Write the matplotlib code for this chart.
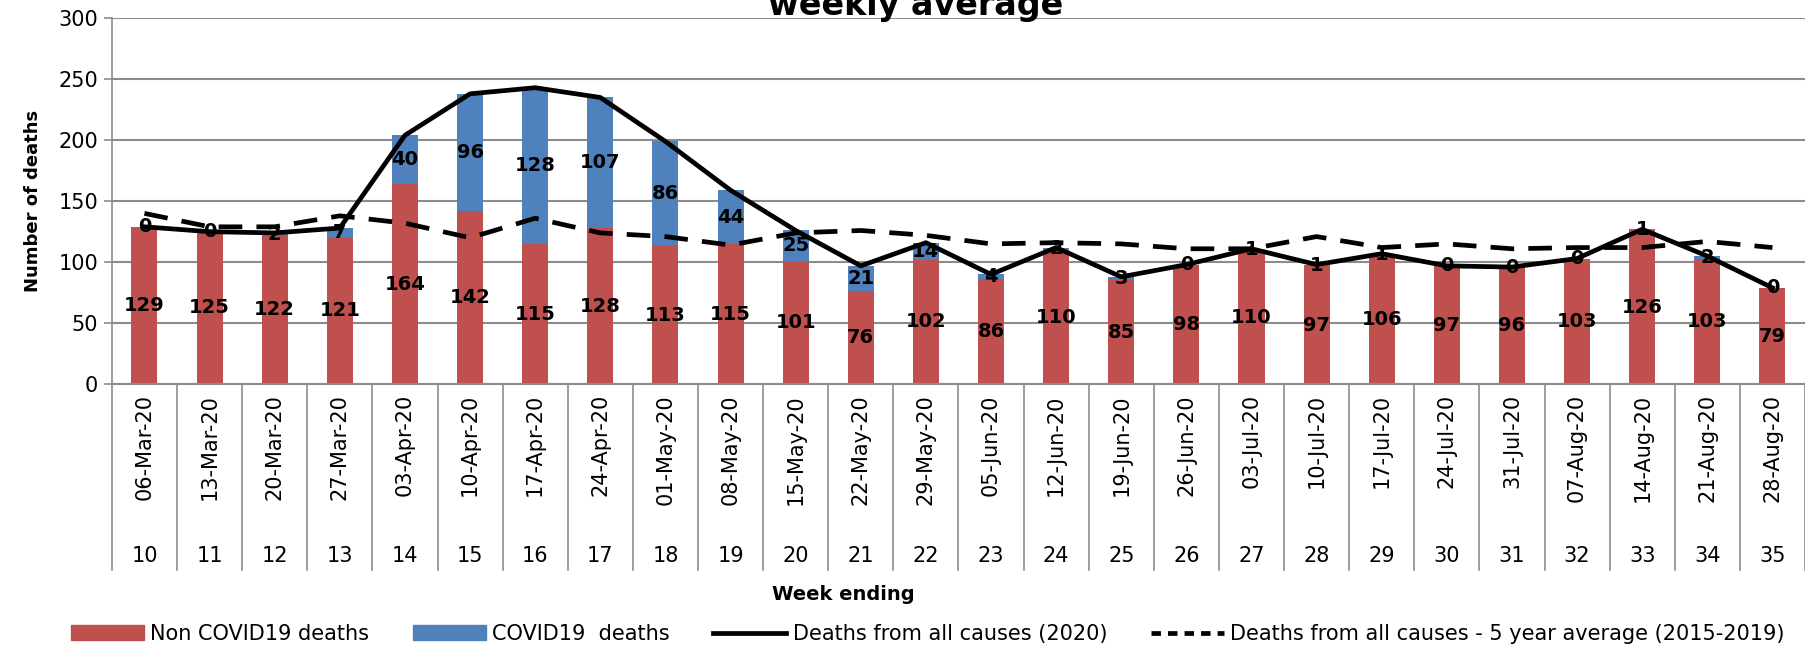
import matplotlib.pyplot as plt
import matplotlib.transforms as mtransforms
from matplotlib.lines import Line2D
from matplotlib.patches import Patch
import numpy as np

# data
weeks = list(range(10, 36))
dates = ["06-Mar-20", "13-Mar-20", "20-Mar-20", "27-Mar-20", "03-Apr-20", "10-Apr-20",
         "17-Apr-20", "24-Apr-20", "01-May-20", "08-May-20", "15-May-20", "22-May-20",
         "29-May-20", "05-Jun-20", "12-Jun-20", "19-Jun-20", "26-Jun-20", "03-Jul-20",
         "10-Jul-20", "17-Jul-20", "24-Jul-20", "31-Jul-20", "07-Aug-20", "14-Aug-20",
         "21-Aug-20", "28-Aug-20"]
non_covid = [129, 125, 122, 121, 164, 142, 115, 128, 113, 115, 101, 76, 102, 86,
             110, 85, 98, 110, 97, 106, 97, 96, 103, 126, 103, 79]
covid = [0, 0, 2, 7, 40, 96, 128, 107, 86, 44, 25, 21, 14, 4,
         2, 3, 0, 1, 1, 1, 0, 0, 0, 1, 2, 0]
avg_5yr = [140, 129, 129, 138, 132, 120, 136, 124, 121, 114, 124, 126, 122, 115,
           116, 115, 111, 111, 121, 112, 115, 111, 112, 112, 117, 112]

RED = "#C0504D"
BLUE = "#4F81BD"
GRID = "#8C8C8C"

non_covid = np.array(non_covid)
covid = np.array(covid)
total = non_covid + covid
x = np.arange(len(weeks))

fig = plt.figure(figsize=(18.05, 6.49), dpi=100)
ax = fig.add_axes([0.062, 0.408, 0.938, 0.564])

ax.bar(x, non_covid, width=0.4, color=RED, zorder=2)
ax.bar(x, covid, width=0.4, bottom=non_covid, color=BLUE, zorder=2)
ax.plot(x, total, color="black", lw=3.4, zorder=3)
ax.plot(x, avg_5yr, color="black", lw=3.4, dashes=(5, 3), zorder=3)

for i in range(len(x)):
    ax.text(x[i], non_covid[i] / 2, str(non_covid[i]), ha="center", va="center",
            fontsize=14, fontweight="bold", zorder=4)
    ax.text(x[i], non_covid[i] + covid[i] / 2, str(covid[i]), ha="center", va="center",
            fontsize=14, fontweight="bold", zorder=4)

ax.set_ylim(0, 300)
ax.set_xlim(-0.5, len(x) - 0.5)
ax.set_yticks(range(0, 301, 50))
ax.yaxis.grid(True, color=GRID, lw=1.5, zorder=0)
ax.tick_params(axis="y", labelsize=15, length=6, color=GRID, width=1.2, pad=4)
for s in ["top", "right"]:
    ax.spines[s].set_visible(False)
ax.spines["left"].set_color(GRID)
ax.spines["bottom"].set_color(GRID)
ax.spines["left"].set_linewidth(1.2)
ax.spines["bottom"].set_linewidth(1.5)
ax.set_xticks([])
ax.set_ylabel("Number of deaths", fontsize=13, fontweight="bold", labelpad=12)

# two-level category axis
trans = mtransforms.blended_transform_factory(ax.transData, ax.transAxes)
sep_bottom = -(570 - 384) / 366
for b in np.arange(-0.5, len(x), 1.0):
    ax.add_line(Line2D([b, b], [0, sep_bottom], transform=trans, color=GRID,
                       lw=1.2, clip_on=False))
for i in range(len(x)):
    ax.text(x[i], -(394 - 384) / 366, dates[i], transform=trans, rotation=90,
            ha="center", va="top", fontsize=15)
    ax.text(x[i], -(556 - 384) / 366, str(weeks[i]), transform=trans,
            ha="center", va="center", fontsize=15)

fig.text(0.467, 1 - 594 / 649, "Week ending", ha="center", va="center",
         fontsize=14, fontweight="bold")
fig.text(0.507, 1 - 15 / 649, "weekly average", ha="center", va="baseline",
         fontsize=24, fontweight="bold")

handles = [Patch(color=RED, label="Non COVID19 deaths"),
           Patch(color=BLUE, label="COVID19  deaths"),
           Line2D([], [], color="black", lw=3.4, label="Deaths from all causes (2020)"),
           Line2D([], [], color="black", lw=3.4, dashes=(2, 1.5),
                  label="Deaths from all causes - 5 year average (2015-2019)")]
fig.legend(handles=handles, loc="center", bbox_to_anchor=(0.514, 1 - 634 / 649),
           ncol=4, frameon=False, fontsize=15, handlelength=3.5, columnspacing=2.1,
           handletextpad=0.3)

fig.savefig("out.png", dpi=100)
